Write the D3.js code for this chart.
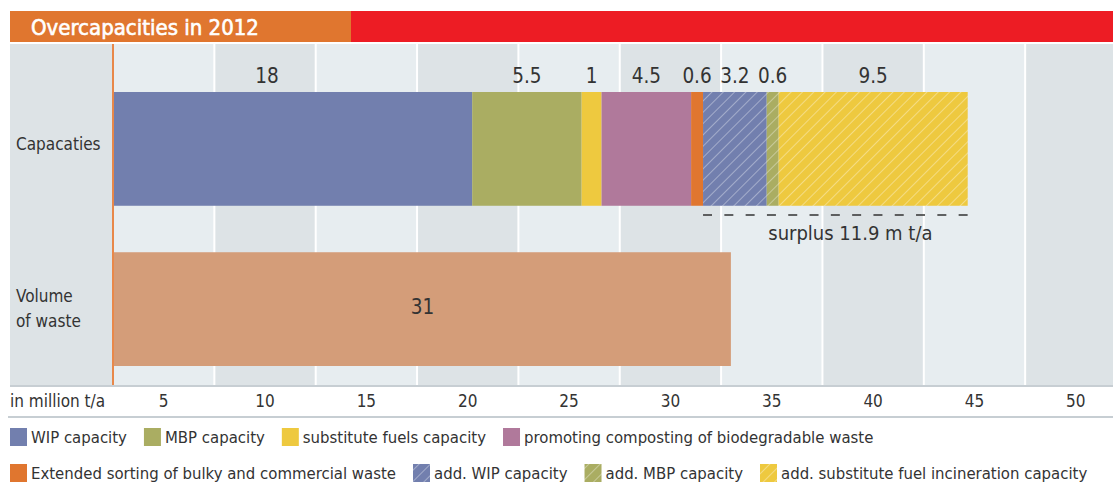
<!DOCTYPE html>
<html>
<head>
<meta charset="utf-8">
<script src="https://cdn.jsdelivr.net/npm/d3@7"></script>
<style>
  html, body { margin: 0; padding: 0; background: #fff; }
  svg { display: block; font-family: "Liberation Sans Narrow", "DejaVu Sans Condensed", "Roboto", sans-serif; }
</style>
</head>
<body>
<svg id="chart" width="1113" height="488"></svg>
<script>
// ---------------- DATA ----------------
const titleText = "Overcapacities in 2012";
const categories = ["Capacaties", "Volume of waste"];
const categoryLines = [["Capacaties"], ["Volume", "of waste"]];
const capacitySeries = [
  "WIP capacity",
  "MBP capacity",
  "substitute fuels capacity",
  "promoting composting of biodegradable waste",
  "Extended sorting of bulky and commercial waste",
  "add. WIP capacity",
  "add. MBP capacity",
  "add. substitute fuel incineration capacity"
];
const capacityValues = [18, 5.5, 1, 4.5, 0.6, 3.2, 0.6, 9.5];
const capacityHatched = [false, false, false, false, false, true, true, true];
const wasteVolume = [31];
const tickLabels = [5, 10, 15, 20, 25, 30, 35, 40, 45, 50];
const axisTitle = "in million t/a";
const surplusValue = 11.9;
const surplusLabel = "surplus " + surplusValue + " m t/a";

// ---------------- STYLE ----------------
const seriesColors = ["#727fae", "#aaad62", "#eec93f", "#b0799b", "#e0762f", "#727fae", "#aaad62", "#eec93f"];
const wasteColor = "#d49d79";
const textColor = "#333333";

const W = 1113, H = 488;
const plotTop = 44, plotBottom = 385;
const plotLeft = 113;

const svg = d3.select("#chart");
const defs = svg.append("defs");

// hatch patterns
seriesColors.forEach((c, i) => {
  if (!capacityHatched[i]) return;
  const p = defs.append("pattern")
    .attr("id", "hatch" + i)
    .attr("patternUnits", "userSpaceOnUse")
    .attr("width", 8).attr("height", 8)
    .attr("patternTransform", "rotate(45)");
  p.append("rect").attr("width", 8).attr("height", 8).attr("fill", c);
  p.append("line").attr("x1", 0).attr("y1", 0).attr("x2", 0).attr("y2", 8)
    .attr("stroke", "#ffffff").attr("stroke-opacity", 0.55).attr("stroke-width", 1.3);
});

// scales
const xGrid = d3.scaleLinear().domain([0, 50]).range([plotLeft, plotLeft + 50 * 20.27]);
const xBar = d3.scaleLinear().domain([0, 50]).range([plotLeft + 1, plotLeft + 1 + 50 * 19.9]);
const yBand = d3.scaleBand().domain(categories).range([92, 366]).paddingInner(0.29);

// title bar
svg.append("rect").attr("x", 10).attr("y", 11).attr("width", 341).attr("height", 31).attr("fill", "#e0762f");
svg.append("rect").attr("x", 351).attr("y", 11).attr("width", W - 351).attr("height", 31).attr("fill", "#ed1c24");
svg.append("text").attr("x", 31).attr("y", 34.5)
  .attr("fill", "#fff").attr("stroke", "#fff").attr("stroke-width", 0.6)
  .attr("font-size", 22).attr("font-weight", "normal")
  .text(titleText);

// label column
svg.append("rect").attr("x", 10).attr("y", plotTop).attr("width", plotLeft - 10).attr("height", plotBottom - plotTop).attr("fill", "#dde3e6");

// grid bands
const bandStarts = d3.range(0, 50, 5);
svg.append("g").selectAll("rect").data(bandStarts).join("rect")
  .attr("x", d => xGrid(d) + (d === 0 ? 0 : 1))
  .attr("y", plotTop)
  .attr("width", d => xGrid(d + 5) - xGrid(d) - (d === 0 ? 0 : 1) - 1)
  .attr("height", plotBottom - plotTop)
  .attr("fill", (d, i) => i % 2 === 0 ? "#e7edf0" : "#dde3e6");

// orange axis line
svg.append("line").attr("x1", plotLeft).attr("x2", plotLeft).attr("y1", plotTop).attr("y2", plotBottom)
  .attr("stroke", "#e8884a").attr("stroke-width", 2);

// horizontal rules
svg.append("line").attr("x1", 10).attr("x2", W).attr("y1", 386).attr("y2", 386).attr("stroke", "#b5bec4").attr("stroke-width", 1.5);
svg.append("line").attr("x1", 8).attr("x2", W).attr("y1", 417).attr("y2", 417).attr("stroke", "#b5bec4").attr("stroke-width", 1.5);

// capacity stacked bar
let cum = 0;
const stack = capacityValues.map((v, i) => {
  const s = { i, v, x0: cum, x1: cum + v };
  cum += v;
  return s;
});
const total = cum;
const yCap = yBand(categories[0]), hCap = yBand.bandwidth();
svg.append("g").selectAll("rect").data(stack).join("rect")
  .attr("x", d => xBar(d.x0))
  .attr("y", yCap)
  .attr("width", d => xBar(d.x1) - xBar(d.x0))
  .attr("height", hCap)
  .attr("fill", d => capacityHatched[d.i] ? `url(#hatch${d.i})` : seriesColors[d.i]);

svg.append("g").selectAll("text").data(stack).join("text")
  .attr("x", d => (xBar(d.x0) + xBar(d.x1)) / 2 - (d.i === 0 ? 26 : 0))
  .attr("y", yCap - 9)
  .attr("text-anchor", "middle")
  .attr("font-size", 20.5)
  .attr("fill", textColor)
  .text(d => d.v);

// volume bar
const yVol = yBand(categories[1]);
svg.append("rect")
  .attr("x", xBar(0)).attr("y", yVol)
  .attr("width", xBar(wasteVolume[0]) - xBar(0))
  .attr("height", yBand.bandwidth())
  .attr("fill", wasteColor);
svg.append("text")
  .attr("x", (xBar(0) + xBar(wasteVolume[0])) / 2)
  .attr("y", yVol + yBand.bandwidth() / 2 + 5)
  .attr("text-anchor", "middle").attr("font-size", 20.5).attr("fill", textColor)
  .text(wasteVolume[0]);

// surplus dashed line
const addStart = stack.find(d => capacityHatched[d.i]).x0;
svg.append("line")
  .attr("x1", xBar(addStart)).attr("x2", xBar(total))
  .attr("y1", 215).attr("y2", 215)
  .attr("stroke", "#333").attr("stroke-width", 1.5)
  .attr("stroke-dasharray", "9,12.3");
svg.append("text")
  .attr("x", (xBar(addStart) + xBar(total)) / 2 + 15)
  .attr("y", 240)
  .attr("text-anchor", "middle").attr("font-size", 20).attr("fill", textColor)
  .text(surplusLabel);

// category labels
categories.forEach((c, i) => {
  const lines = categoryLines[i];
  const yc = yBand(c) + yBand.bandwidth() / 2;
  const t = svg.append("text").attr("font-size", 17).attr("fill", textColor);
  if (lines.length === 1) {
    t.append("tspan").attr("x", 16).attr("y", yc + 1).text(lines[0]);
  } else {
    lines.forEach((ln, j) => {
      t.append("tspan").attr("x", 16).attr("y", yc - 7 + j * 25).text(ln);
    });
  }
});

// x tick labels
svg.append("text").attr("x", 10).attr("y", 407).attr("font-size", 17).attr("fill", textColor).text(axisTitle);
svg.append("g").selectAll("text").data(tickLabels).join("text")
  .attr("x", d => xGrid(d - 2.5))
  .attr("y", 407)
  .attr("text-anchor", "middle").attr("font-size", 17).attr("fill", textColor)
  .text(d => d);

// legend
const legendRows = [[0, 1, 2, 3], [4, 5, 6, 7]];
const legendY = [428, 464];
legendRows.forEach((row, r) => {
  let x = 10;
  row.forEach(i => {
    svg.append("rect").attr("x", x).attr("y", legendY[r]).attr("width", 17).attr("height", 18)
      .attr("fill", capacityHatched[i] ? `url(#hatch${i})` : seriesColors[i]);
    const t = svg.append("text").attr("x", x + 21).attr("y", legendY[r] + 15)
      .attr("font-size", 16.6).attr("fill", textColor).text(capacitySeries[i]);
    x = x + 21 + t.node().getComputedTextLength() + 17;
  });
});
</script>
</body>
</html>
